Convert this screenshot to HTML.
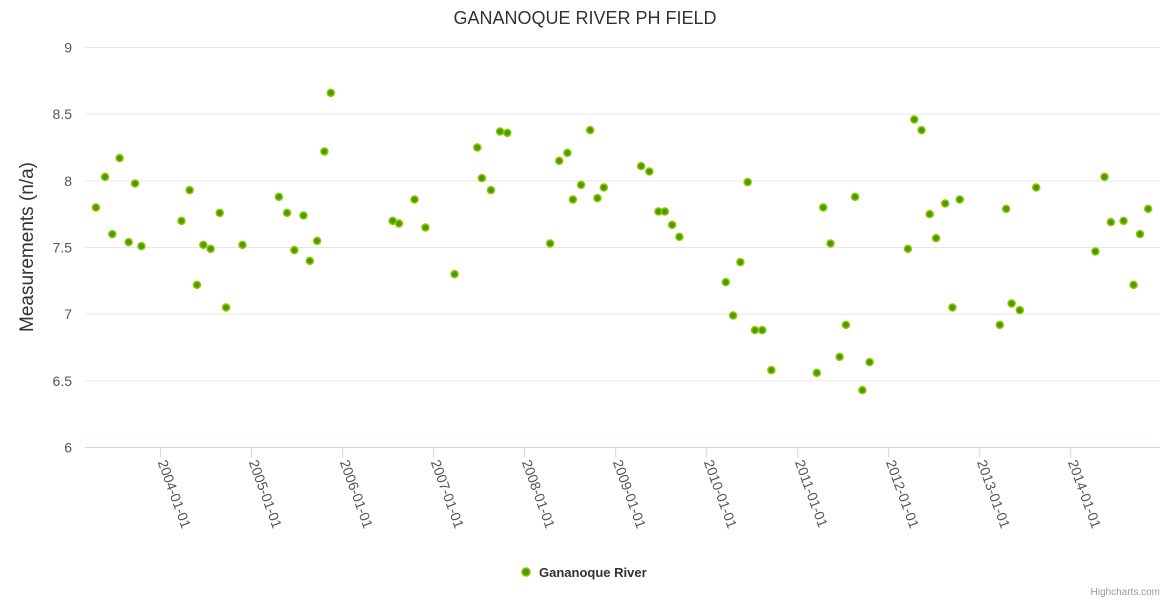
<!DOCTYPE html>
<html><head><meta charset="utf-8"><style>
body{margin:0;background:#fff;font-family:"Liberation Sans",sans-serif}
svg text{font-family:"Liberation Sans",sans-serif}
</style></head><body>
<svg id="c" width="1170" height="600">
<text x="585" y="24" text-anchor="middle" font-size="18" fill="#333">GANANOQUE RIVER PH FIELD</text>
<text transform="translate(33,247) rotate(-90)" text-anchor="middle" font-size="19" fill="#333">Measurements (n/a)</text>
<g id="grid"></g><g id="xt"></g><g id="pts"></g>
<g>
<circle cx="526" cy="572" r="4" fill="#4a9a00" stroke="#8cc800" stroke-width="1.5"/>
<text x="539" y="577" font-size="13" font-weight="bold" fill="#333">Gananoque River</text>
</g>
<text x="1160" y="595" text-anchor="end" font-size="10" fill="#999">Highcharts.com</text>
</svg>
<script>
const dates=[2003.29,2003.39,2003.47,2003.55,2003.65,2003.72,2003.79,2004.23,2004.32,2004.40,2004.47,2004.55,2004.65,2004.72,2004.90,2005.30,2005.39,2005.47,2005.57,2005.64,2005.72,2005.80,2005.87,2006.55,2006.62,2006.79,2006.91,2007.23,2007.48,2007.53,2007.63,2007.73,2007.81,2008.28,2008.38,2008.47,2008.53,2008.62,2008.72,2008.80,2008.87,2009.28,2009.37,2009.47,2009.54,2009.62,2009.70,2010.21,2010.29,2010.37,2010.45,2010.53,2010.61,2010.71,2011.21,2011.28,2011.36,2011.46,2011.53,2011.63,2011.71,2011.79,2012.21,2012.28,2012.36,2012.45,2012.52,2012.62,2012.70,2012.78,2013.22,2013.29,2013.35,2013.44,2013.62,2014.27,2014.37,2014.44,2014.58,2014.69,2014.76,2014.85];
const values=[7.80,8.03,7.60,8.17,7.54,7.98,7.51,7.70,7.93,7.22,7.52,7.49,7.76,7.05,7.52,7.88,7.76,7.48,7.74,7.40,7.55,8.22,8.66,7.70,7.68,7.86,7.65,7.30,8.25,8.02,7.93,8.37,8.36,7.53,8.15,8.21,7.86,7.97,8.38,7.87,7.95,8.11,8.07,7.77,7.77,7.67,7.58,7.24,6.99,7.39,7.99,6.88,6.88,6.58,6.56,7.80,7.53,6.68,6.92,7.88,6.43,6.64,7.49,8.46,8.38,7.75,7.57,7.83,7.05,7.86,6.92,7.79,7.08,7.03,7.95,7.47,8.03,7.69,7.70,7.22,7.60,7.79];
const yTicks=[6,6.5,7,7.5,8,8.5,9];
const xTickYears=[2004,2005,2006,2007,2008,2009,2010,2011,2012,2013,2014];
const X0=85,X1=1160,Y0=447.5,Y1=47.5,xmin=2003.17,xmax=2014.98,ymin=6,ymax=9;
const xs=v=>X0+(v-xmin)/(xmax-xmin)*(X1-X0);
const ys=v=>Y0-(v-ymin)/(ymax-ymin)*(Y0-Y1);
const NS="http://www.w3.org/2000/svg";
function mk(t,a,p){const e=document.createElementNS(NS,t);for(const k in a)e.setAttribute(k,a[k]);p.appendChild(e);return e;}
const g=document.getElementById('grid'),xt=document.getElementById('xt'),pts=document.getElementById('pts');
yTicks.forEach(v=>{
 const l=mk('line',{x1:X0,x2:X1,y1:ys(v),y2:ys(v),stroke:v===6?'#ccd6eb':'#e6e6e6','stroke-width':1},g);
 
 
 const t=mk('text',{x:72,y:ys(v)+5,'text-anchor':'end','font-size':14,fill:'#555'},g);
 t.textContent=String(v);
 
 
});
xTickYears.forEach(y=>{
 const x=xs(y);
 const l=mk('line',{x1:x,x2:x,y1:447.5,y2:457.5,stroke:'#ccd6eb'},xt);
 
 
 const t=mk('text',{transform:`translate(${x-3},462) rotate(70)`,'font-size':14,fill:'#555'},xt);
 t.textContent=y+'-01-01';
 
 
});
dates.forEach((d,i)=>{
 const c=mk('circle',{cx:xs(d),cy:ys(values[i]),r:3.5,fill:'#4a9a00',stroke:'#8cc800','stroke-width':1.5},pts);
 
 
});
</script>
</body></html>
